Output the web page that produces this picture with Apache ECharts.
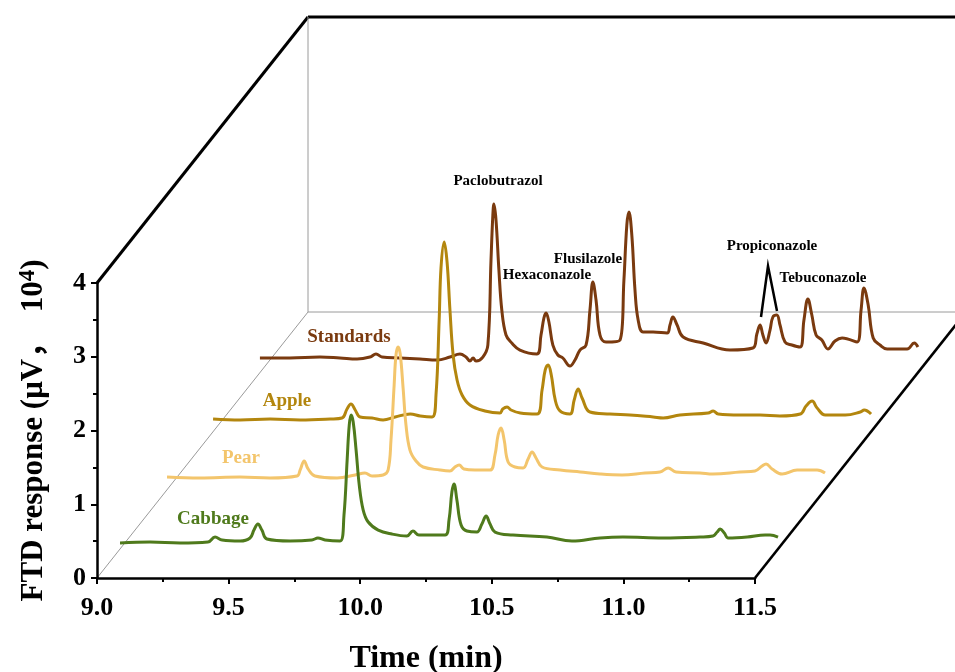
<!DOCTYPE html>
<html><head><meta charset="utf-8">
<script src="https://cdn.jsdelivr.net/npm/echarts@6/dist/echarts.min.js"></script>
<style>html,body{margin:0;padding:0;background:#fff}#c{width:955px;height:672px}</style>
</head><body><div id="c"></div>
<script>
// ---------- data (retention time in min, FTD response in 10^4 uV above each trace's own floor) ----------
const layerNames = ['Cabbage', 'Pear', 'Apple', 'Standards'];
const cabbage = [[9.000,0.034],[9.114,0.047],[9.228,0.034],[9.334,0.047],[9.361,0.115],[9.388,0.075],[9.456,0.061],[9.494,0.102],[9.509,0.210],[9.524,0.292],[9.539,0.210],[9.558,0.088],[9.646,0.061],[9.729,0.075],[9.752,0.102],[9.779,0.075],[9.836,0.061],[9.851,0.414],[9.863,1.159],[9.871,1.634],[9.878,1.769],[9.886,1.675],[9.897,1.295],[9.909,0.820],[9.924,0.481],[9.943,0.319],[9.981,0.210],[10.033,0.156],[10.090,0.129],[10.113,0.197],[10.136,0.142],[10.235,0.142],[10.250,0.346],[10.261,0.725],[10.269,0.834],[10.280,0.617],[10.296,0.278],[10.318,0.197],[10.356,0.183],[10.375,0.292],[10.391,0.400],[10.406,0.292],[10.425,0.183],[10.493,0.142],[10.622,0.115],[10.717,0.061],[10.824,0.102],[10.911,0.115],[11.063,0.102],[11.204,0.115],[11.253,0.129],[11.269,0.183],[11.280,0.224],[11.296,0.169],[11.311,0.102],[11.383,0.115],[11.451,0.142],[11.470,0.142],[11.500,0.115]];
const pear = [[9.000,0.049],[9.125,0.036],[9.277,0.049],[9.391,0.036],[9.494,0.063],[9.506,0.145],[9.521,0.267],[9.536,0.158],[9.562,0.063],[9.646,0.036],[9.715,0.077],[9.752,0.104],[9.779,0.063],[9.821,0.077],[9.840,0.145],[9.851,0.551],[9.863,1.297],[9.870,1.704],[9.878,1.812],[9.886,1.717],[9.897,1.256],[9.908,0.754],[9.923,0.415],[9.946,0.266],[9.973,0.185],[10.037,0.144],[10.075,0.131],[10.094,0.185],[10.110,0.212],[10.128,0.158],[10.170,0.144],[10.227,0.144],[10.246,0.348],[10.258,0.619],[10.269,0.714],[10.281,0.551],[10.296,0.253],[10.322,0.185],[10.353,0.172],[10.372,0.294],[10.387,0.389],[10.402,0.307],[10.425,0.185],[10.494,0.144],[10.570,0.117],[10.645,0.090],[10.729,0.077],[10.816,0.104],[10.873,0.117],[10.904,0.172],[10.934,0.117],[11.025,0.104],[11.074,0.090],[11.177,0.117],[11.234,0.131],[11.261,0.199],[11.276,0.226],[11.299,0.158],[11.337,0.090],[11.394,0.144],[11.470,0.144],[11.500,0.104]];
const apple = [[9.000,0.046],[9.103,0.033],[9.217,0.046],[9.331,0.033],[9.445,0.046],[9.490,0.060],[9.509,0.182],[9.524,0.249],[9.540,0.168],[9.559,0.073],[9.604,0.060],[9.646,0.033],[9.692,0.073],[9.749,0.114],[9.787,0.087],[9.832,0.073],[9.847,0.372],[9.859,1.389],[9.866,2.094],[9.878,2.446],[9.889,2.175],[9.900,1.524],[9.912,0.914],[9.927,0.575],[9.946,0.372],[9.976,0.236],[10.033,0.155],[10.090,0.127],[10.101,0.182],[10.117,0.209],[10.132,0.168],[10.167,0.127],[10.231,0.114],[10.250,0.439],[10.262,0.711],[10.273,0.779],[10.285,0.643],[10.300,0.304],[10.318,0.155],[10.356,0.114],[10.372,0.304],[10.387,0.453],[10.402,0.331],[10.432,0.141],[10.508,0.114],[10.584,0.100],[10.672,0.073],[10.710,0.060],[10.774,0.100],[10.881,0.127],[10.900,0.155],[10.919,0.114],[11.002,0.100],[11.078,0.100],[11.154,0.087],[11.231,0.114],[11.253,0.222],[11.276,0.290],[11.295,0.195],[11.326,0.100],[11.402,0.100],[11.459,0.141],[11.474,0.168],[11.500,0.114]];
const standards = [[9.000,0.053],[9.114,0.053],[9.228,0.066],[9.304,0.053],[9.369,0.039],[9.418,0.066],[9.441,0.107],[9.464,0.066],[9.532,0.053],[9.608,0.039],[9.673,0.026],[9.722,0.066],[9.760,0.107],[9.783,0.066],[9.798,0.012],[9.810,0.053],[9.821,0.012],[9.847,0.066],[9.866,0.229],[9.878,1.381],[9.885,1.992],[9.889,2.141],[9.897,1.924],[9.908,1.246],[9.919,0.704],[9.935,0.365],[9.957,0.256],[9.988,0.161],[10.052,0.107],[10.068,0.365],[10.079,0.595],[10.087,0.663],[10.098,0.541],[10.113,0.229],[10.132,0.094],[10.151,0.053],[10.178,-0.056],[10.197,0.026],[10.216,0.161],[10.239,0.229],[10.254,0.704],[10.265,1.083],[10.277,0.839],[10.292,0.365],[10.315,0.270],[10.368,0.297],[10.383,1.111],[10.394,1.856],[10.402,2.032],[10.413,1.720],[10.425,0.975],[10.437,0.568],[10.456,0.405],[10.494,0.405],[10.547,0.392],[10.558,0.500],[10.569,0.609],[10.585,0.500],[10.608,0.337],[10.684,0.256],[10.786,0.161],[10.873,0.188],[10.888,0.378],[10.900,0.500],[10.911,0.365],[10.923,0.256],[10.938,0.432],[10.949,0.609],[10.964,0.636],[10.976,0.500],[10.995,0.270],[11.021,0.229],[11.052,0.202],[11.067,0.568],[11.082,0.853],[11.097,0.636],[11.113,0.365],[11.135,0.297],[11.158,0.175],[11.185,0.283],[11.212,0.324],[11.269,0.270],[11.284,0.704],[11.295,1.002],[11.311,0.772],[11.330,0.324],[11.356,0.229],[11.383,0.175],[11.459,0.175],[11.486,0.256],[11.500,0.202]];
const traces = [cabbage, pear, apple, standards];
const compounds = ['Paclobutrazol', 'Hexaconazole', 'Flusilazole', 'Propiconazole', 'Tebuconazole'];
const xName = 'Time (min)';
const yName = '{a|FTD response (μV，  10}{s|4}{a|)}';

// ---------- layout / style ----------
const layerShiftTime = [0.0874, 0.266, 0.441, 0.619];   // waterfall shift along time axis
const layerShiftResp = [0.44, 1.32, 2.11, 2.93];        // waterfall shift along response axis
const colors = ['#4F7A1C', '#F3C56C', '#B3860E', '#7A3A0F'];
const FONT = '"Liberation Serif","Times New Roman",serif';
const NAME_FONT = '"Liberation Serif","Noto Sans CJK SC",serif';
const DEPTH = [211, -266];
const layerLabelPos = [[213, 519], [241, 458], [287, 401], [349, 337]];
const compoundLabelPos = [[498, 181], [547, 275], [588, 259], [772, 246], [823, 278]];
const PX_PER_MIN = 658 / 2.5;
const X_EXT = 12.2;   // hidden plotting axis extends past 11.5 so shifted traces are not cut

const chart = echarts.init(document.getElementById('c'), null, {renderer: 'canvas'});

const drawOrder = [3, 2, 1, 0];
const series = drawOrder.map(k => ({
  type: 'line', name: layerNames[k], showSymbol: false, clip: false,
  xAxisIndex: 1, yAxisIndex: 1,
  smooth: 0.4,
  lineStyle: {color: colors[k], width: 3},
  itemStyle: {color: colors[k]},
  data: traces[k].map(p => [p[0] + layerShiftTime[k], p[1] + layerShiftResp[k]])
}));

const tickFont = {fontFamily: FONT, fontWeight: 'bold', fontSize: 26, color: '#000'};
chart.setOption({
  animation: false,
  backgroundColor: '#fff',
  grid: [
    {left: 97, top: 283, width: 658, height: 295, containLabel: false, outerBoundsMode: 'none'},
    {left: 97, top: 283, width: PX_PER_MIN * (X_EXT - 9), height: 295, containLabel: false, outerBoundsMode: 'none'}
  ],
  xAxis: [{
    type: 'value', gridIndex: 0, min: 9, max: 11.5, interval: 0.5,
    name: xName, nameLocation: 'middle', nameGap: 65,
    nameTextStyle: {fontFamily: FONT, fontWeight: 'bold', fontSize: 32, color: '#000'},
    axisLine: {show: true, onZero: false, lineStyle: {color: '#000', width: 2.5}},
    axisTick: {show: true, length: 6, lineStyle: {color: '#000', width: 2}},
    minorTick: {show: true, splitNumber: 2, length: 4, lineStyle: {color: '#000', width: 2}},
    splitLine: {show: false},
    axisLabel: Object.assign({margin: 17, formatter: v => v.toFixed(1)}, tickFont)
  }, {
    type: 'value', gridIndex: 1, min: 9, max: X_EXT, show: false
  }],
  yAxis: [{
    type: 'value', gridIndex: 0, min: 0, max: 4, interval: 1,
    name: yName, nameLocation: 'middle', nameGap: 46,
    nameTextStyle: {fontFamily: NAME_FONT, fontWeight: 'bold', fontSize: 31, color: '#000',
      rich: {
        a: {fontFamily: NAME_FONT, fontWeight: 'bold', fontSize: 31, color: '#000', lineHeight: 34},
        s: {fontFamily: FONT, fontWeight: 'bold', fontSize: 23, color: '#000', verticalAlign: 'top', lineHeight: 34}
      }},
    axisLine: {show: true, onZero: false, lineStyle: {color: '#000', width: 2.5}},
    axisTick: {show: true, length: 6, lineStyle: {color: '#000', width: 2}},
    minorTick: {show: true, splitNumber: 2, length: 4, lineStyle: {color: '#000', width: 2}},
    splitLine: {show: false},
    axisLabel: Object.assign({margin: 11}, tickFont)
  }, {
    type: 'value', gridIndex: 1, min: 0, max: 4, show: false
  }],
  series: series
});

// ---------- pseudo-3D frame derived from the axes ----------
const p00 = chart.convertToPixel({gridIndex: 0}, [9, 0]);
const p01 = chart.convertToPixel({gridIndex: 0}, [9, 4]);
const p10 = chart.convertToPixel({gridIndex: 0}, [11.5, 0]);
const p11 = chart.convertToPixel({gridIndex: 0}, [11.5, 4]);
const back = p => [p[0] + DEPTH[0], p[1] + DEPTH[1]];
const seg = (a, b, color, width) => ({type: 'line', z: 0, silent: true,
  shape: {x1: a[0], y1: a[1], x2: b[0], y2: b[1]}, style: {stroke: color, lineWidth: width}});
const gray = '#9a9a9a';
const graphics = [
  seg(p01, back(p01), '#000', 3),
  seg(back(p01), back(p11), '#000', 3.2),
  seg(back(p00), back(p01), gray, 1),
  seg(back(p00), back(p10), gray, 1),
  seg(p00, back(p00), gray, 1),
  seg(p10, back(p10), '#000', 2.6)
];
layerNames.forEach((n, k) => graphics.push({type: 'text', z: 10, silent: true,
  x: layerLabelPos[k][0], y: layerLabelPos[k][1],
  style: {text: n, fill: colors[k], font: 'bold 19px ' + FONT, textAlign: 'center', textVerticalAlign: 'middle'}}));
compounds.forEach((n, k) => graphics.push({type: 'text', z: 10, silent: true,
  x: compoundLabelPos[k][0], y: compoundLabelPos[k][1],
  style: {text: n, fill: '#000', font: 'bold 15px ' + FONT, textAlign: 'center', textVerticalAlign: 'middle'}}));
graphics.push({type: 'polyline', z: 10, silent: true,
  shape: {points: [[761, 317], [768, 266], [777, 311]]}, style: {stroke: '#000', lineWidth: 2.5, fill: null}});
chart.setOption({graphic: graphics});
</script></body></html>
